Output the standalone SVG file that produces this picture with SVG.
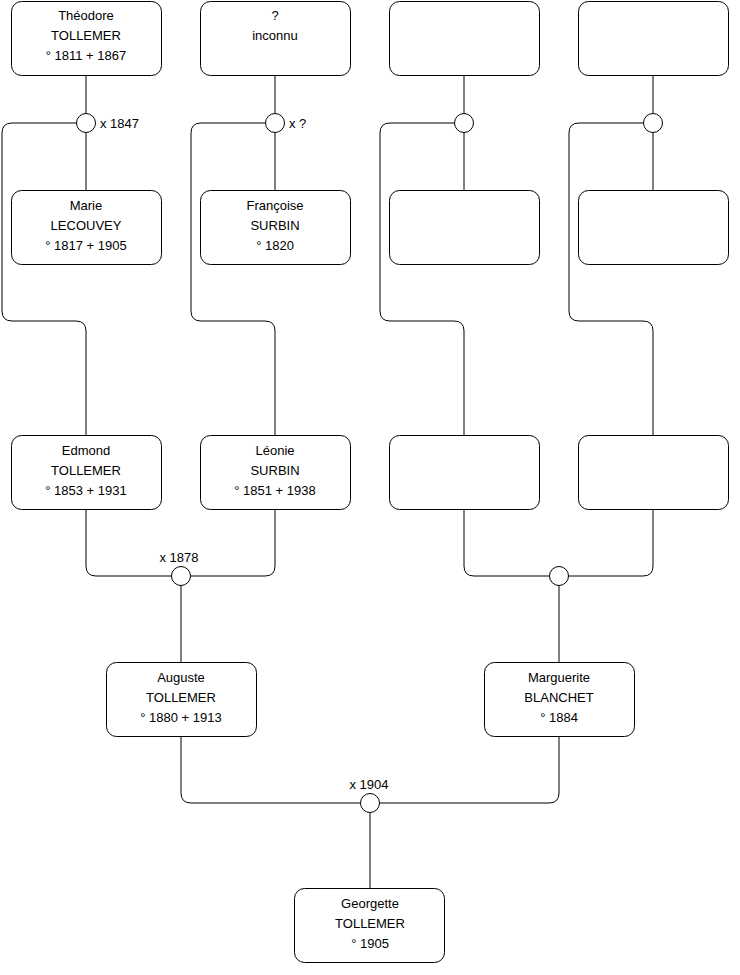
<svg xmlns="http://www.w3.org/2000/svg" width="740" height="975" viewBox="0 0 740 975">
<style>
.box{fill:#fff;stroke:#000;stroke-width:1}
.c{fill:#fff;stroke:#000;stroke-width:1}
.e{fill:none;stroke:#000;stroke-width:1}
text{font-family:"Liberation Sans",Arial,sans-serif;font-size:13px;fill:#000}
.m{text-anchor:middle}
</style>
<rect width="740" height="975" fill="#fff"/>
<g id="connectors">
<path class="e" d="M86 76V113.5M86 132.5V190"/>
<path class="e" d="M76.5 123H12Q2 123 2 133V311Q2 321 12 321H76Q86 321 86 331V435"/>
<path class="e" d="M275 76V113.5M275 132.5V190"/>
<path class="e" d="M265.5 123H201Q191 123 191 133V311Q191 321 201 321H265Q275 321 275 331V435"/>
<path class="e" d="M464 76V113.5M464 132.5V190"/>
<path class="e" d="M454.5 123H390Q380 123 380 133V311Q380 321 390 321H454Q464 321 464 331V435"/>
<path class="e" d="M653 76V113.5M653 132.5V190"/>
<path class="e" d="M643.5 123H579Q569 123 569 133V311Q569 321 579 321H643Q653 321 653 331V435"/>
<path class="e" d="M86 510V566Q86 576 96 576H171.5"/>
<path class="e" d="M275 510V566Q275 576 265 576H190.5"/>
<path class="e" d="M181 585.5V662"/>
<path class="e" d="M464 510V566Q464 576 474 576H549.5"/>
<path class="e" d="M653 510V566Q653 576 643 576H568.5"/>
<path class="e" d="M559 585.5V662"/>
<path class="e" d="M181 737V793Q181 803 191 803H360.5"/>
<path class="e" d="M559 737V793Q559 803 549 803H379.5"/>
<path class="e" d="M370 812.5V888"/>
</g>
<g id="unions">
<circle class="c" cx="86" cy="123" r="9.5"/>
<circle class="c" cx="275" cy="123" r="9.5"/>
<circle class="c" cx="464" cy="123" r="9.5"/>
<circle class="c" cx="653" cy="123" r="9.5"/>
<circle class="c" cx="181" cy="576" r="9.5"/>
<circle class="c" cx="559" cy="576" r="9.5"/>
<circle class="c" cx="370" cy="803" r="9.5"/>
<text x="100" y="128">x 1847</text>
<text x="289" y="128">x ?</text>
<text class="m" x="179" y="562">x 1878</text>
<text class="m" x="369" y="789">x 1904</text>
</g>
<g id="theodore"><rect class="box" x="11.5" y="1.5" width="150" height="74" rx="10"/><text class="m" x="86" y="19.5">Théodore</text><text class="m" x="86" y="39.5">TOLLEMER</text><text class="m" x="86" y="59.5">° 1811 + 1867</text></g>
<g id="inconnu"><rect class="box" x="200.5" y="1.5" width="150" height="74" rx="10"/><text class="m" x="275" y="19.5">?</text><text class="m" x="275" y="39.5">inconnu</text></g>
<g id="p3"><rect class="box" x="389.5" y="1.5" width="150" height="74" rx="10"/></g>
<g id="p4"><rect class="box" x="578.5" y="1.5" width="150" height="74" rx="10"/></g>
<g id="marie"><rect class="box" x="11.5" y="190.5" width="150" height="74" rx="10"/><text class="m" x="86" y="209.5">Marie</text><text class="m" x="86" y="229.5">LECOUVEY</text><text class="m" x="86" y="249.5">° 1817 + 1905</text></g>
<g id="francoise"><rect class="box" x="200.5" y="190.5" width="150" height="74" rx="10"/><text class="m" x="275" y="209.5">Françoise</text><text class="m" x="275" y="229.5">SURBIN</text><text class="m" x="275" y="249.5">° 1820</text></g>
<g id="p7"><rect class="box" x="389.5" y="190.5" width="150" height="74" rx="10"/></g>
<g id="p8"><rect class="box" x="578.5" y="190.5" width="150" height="74" rx="10"/></g>
<g id="edmond"><rect class="box" x="11.5" y="435.5" width="150" height="74" rx="10"/><text class="m" x="86" y="454.5">Edmond</text><text class="m" x="86" y="474.5">TOLLEMER</text><text class="m" x="86" y="494.5">° 1853 + 1931</text></g>
<g id="leonie"><rect class="box" x="200.5" y="435.5" width="150" height="74" rx="10"/><text class="m" x="275" y="454.5">Léonie</text><text class="m" x="275" y="474.5">SURBIN</text><text class="m" x="275" y="494.5">° 1851 + 1938</text></g>
<g id="p11"><rect class="box" x="389.5" y="435.5" width="150" height="74" rx="10"/></g>
<g id="p12"><rect class="box" x="578.5" y="435.5" width="150" height="74" rx="10"/></g>
<g id="auguste"><rect class="box" x="106.5" y="662.5" width="150" height="74" rx="10"/><text class="m" x="181" y="681.5">Auguste</text><text class="m" x="181" y="701.5">TOLLEMER</text><text class="m" x="181" y="721.5">° 1880 + 1913</text></g>
<g id="marguerite"><rect class="box" x="484.5" y="662.5" width="150" height="74" rx="10"/><text class="m" x="559" y="681.5">Marguerite</text><text class="m" x="559" y="701.5">BLANCHET</text><text class="m" x="559" y="721.5">° 1884</text></g>
<g id="georgette"><rect class="box" x="294.5" y="888.5" width="150" height="74" rx="10"/><text class="m" x="370" y="907.5">Georgette</text><text class="m" x="370" y="927.5">TOLLEMER</text><text class="m" x="370" y="947.5">° 1905</text></g>
</svg>
